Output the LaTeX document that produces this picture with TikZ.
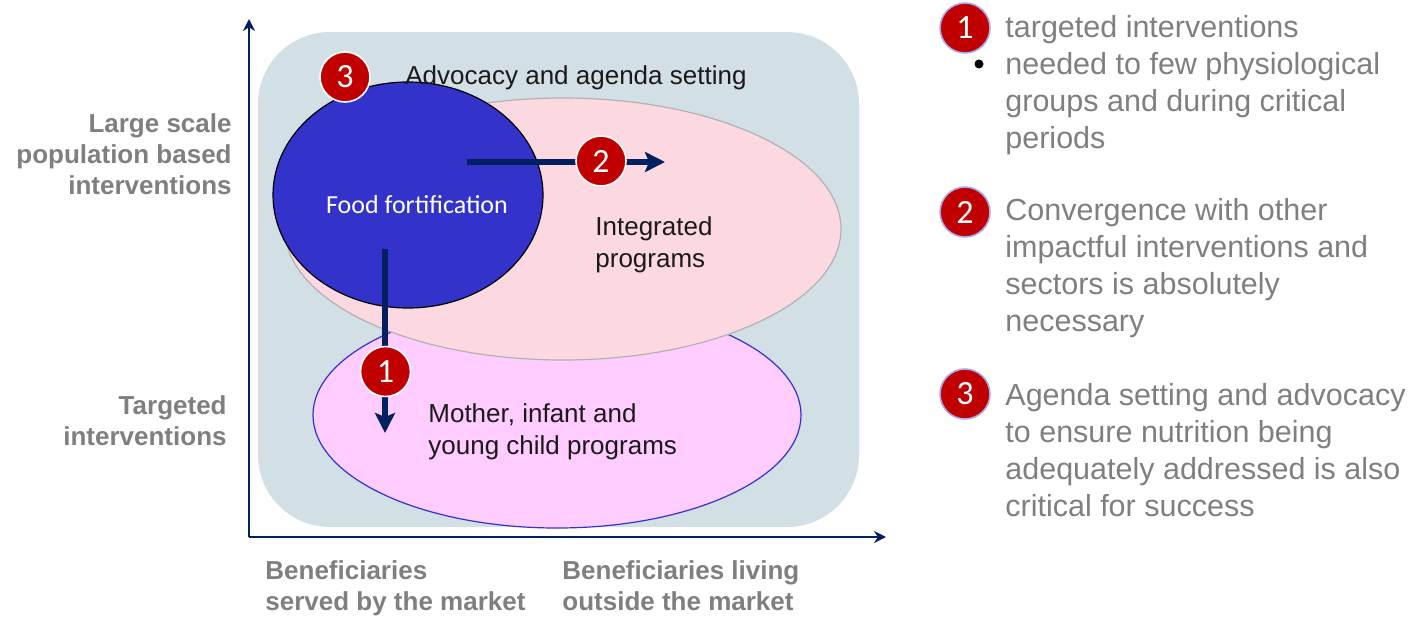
\documentclass[tikz,border=0pt]{standalone}
\usepackage{fontspec}
\setmainfont{Liberation Sans}
\newfontfamily\badgefont{Carlito}
\usetikzlibrary{arrows.meta,shapes.geometric}
\definecolor{navy}{RGB}{0,32,96}
\definecolor{panel}{RGB}{210,223,229}
\definecolor{pinkfill}{RGB}{252,216,224}
\definecolor{pinkrim}{RGB}{178,178,178}
\definecolor{lilac}{RGB}{255,204,255}
\definecolor{rimblue}{RGB}{51,51,204}
\definecolor{fortblue}{RGB}{51,51,204}
\definecolor{badgered}{RGB}{192,0,0}
\definecolor{keyrim}{RGB}{170,170,240}
\definecolor{labelgray}{RGB}{127,127,127}
\definecolor{textdark}{RGB}{26,26,26}

\begin{document}
\begin{tikzpicture}[x=0.5pt, y=-0.5pt,
		badge/.style={circle, fill=badgered, draw=white, line width=0.8pt, minimum size=25pt, inner sep=0pt, text=white, font=\badgefont\fontsize{17}{17}\selectfont},
		keybadge/.style={badge, draw=keyrim},
		flow/.style={draw=navy, line width=3pt, -{Stealth[length=10pt, width=10pt, inset=2pt]}},
		axis/.style={draw=navy, line width=1pt, -{Stealth[length=6pt, width=6pt]}},
		inner/.style={font=\fontsize{13}{16}\selectfont, text=textdark, align=left, anchor=base west, inner sep=0pt},
		axislabel/.style={font=\bfseries\fontsize{13}{15.5}\selectfont, text=labelgray, inner sep=0pt},
		keytext/.style={font=\fontsize{15.25}{18.5}\selectfont, text=labelgray, align=left, anchor=base west, inner sep=0pt}]
		\useasboundingbox (0,0) rectangle (1413,616);
		\node [fill=panel, rounded corners=36pt, minimum width=300.5pt, minimum height=247.5pt] (panel) at (558.5,279.5) {};
		\node [ellipse, fill=lilac, draw=rimblue, line width=0.6pt, minimum width=244pt, minimum height=113pt, inner sep=0pt] (mic) at (557,415) {};
		\node [ellipse, fill=pinkfill, draw=pinkrim, line width=0.6pt, minimum width=278pt, minimum height=131pt, inner sep=0pt] (integ) at (563,229) {};
		\node [ellipse, fill=fortblue, draw=black, line width=0.6pt, minimum width=135pt, minimum height=113pt, inner sep=0pt] (fort) at (408,195) {};
		\node [inner] (advtext) at (405,84) {Advocacy and agenda setting};
		\node [text=white, font=\badgefont\fontsize{13}{13}\selectfont] (forttext) at (417,205) {Food fortification};
		\node [inner] (integtext) at (595,267) {Integrated\\programs};
		\node [inner] (mictext) at (428,454) {Mother, infant and\\young child programs};
		\coordinate (twostart) at (467,162);
		\coordinate (twoend) at (665,162);
		\draw [flow] (twostart) -- (twoend);
		\coordinate (onestart) at (385,249);
		\coordinate (oneend) at (385,433);
		\draw [flow] (onestart) -- (oneend);
		\node [badge] (b3) at (345,77) {3};
		\node [badge] (b2) at (601,161) {2};
		\node [badge] (b1) at (385.5,371.5) {1};
		\coordinate (origin) at (249,537);
		\coordinate (ytip) at (249,19);
		\coordinate (xtip) at (886,537);
		\draw [axis] (origin) -- (ytip);
		\draw [axis] (origin) -- (xtip);
		\node [axislabel, align=right, anchor=base east] (ylarge) at (232,194) {Large scale\\population based\\interventions};
		\node [axislabel, align=right, anchor=base east] (ytarget) at (227,445) {Targeted\\interventions};
		\node [axislabel, align=left, anchor=base west] (xmarket) at (265,610) {Beneficiaries\\served by the market};
		\node [axislabel, align=left, anchor=base west] (xoutside) at (562,610) {Beneficiaries living\\outside the market};
		\node [keybadge] (k1) at (965,28) {1};
		\node [keytext] (k1text) at (1005,37) {targeted interventions};
		\node [circle, fill=black, inner sep=0pt, minimum size=4.5pt] (k1dot) at (979,64) {};
		\node [keytext] (k1more) at (1005,148) {needed to few physiological\\groups and during critical\\periods};
		\node [keybadge] (k2) at (965,212) {2};
		\node [keytext] (k2text) at (1005,331) {Convergence with other\\impactful interventions and\\sectors is absolutely\\necessary};
		\node [keybadge] (k3) at (965,394) {3};
		\node [keytext] (k3text) at (1005,516) {Agenda setting and advocacy\\to ensure nutrition being\\adequately addressed is also\\critical for success};
	\end{tikzpicture}
\end{document}
